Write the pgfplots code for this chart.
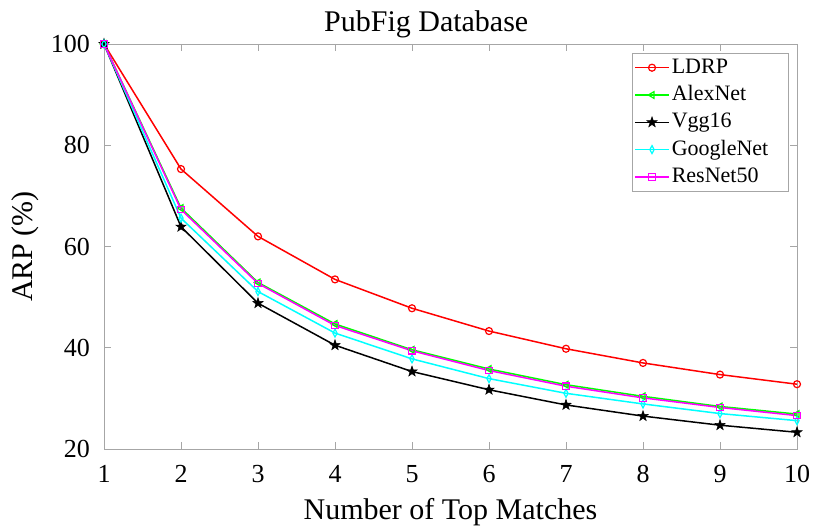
\documentclass[border=0pt]{standalone}
\usepackage{fontspec}
\setmainfont{Liberation Serif}
\usepackage{pgfplots}
\pgfplotsset{compat=1.18}

\definecolor{mred}{rgb}{1,0,0}
\definecolor{mgreen}{rgb}{0,1,0}
\definecolor{mcyan}{rgb}{0,1,1}
\definecolor{mmagenta}{rgb}{1,0,1}

% filled five-point star, as MATLAB's 'p' marker
\pgfdeclareplotmark{fstar}{%
  \pgfpathmoveto{\pgfpointpolar{90}{\pgfplotmarksize}}%
  \pgfpathlineto{\pgfpointpolar{126}{0.4\pgfplotmarksize}}%
  \pgfpathlineto{\pgfpointpolar{162}{\pgfplotmarksize}}%
  \pgfpathlineto{\pgfpointpolar{198}{0.4\pgfplotmarksize}}%
  \pgfpathlineto{\pgfpointpolar{234}{\pgfplotmarksize}}%
  \pgfpathlineto{\pgfpointpolar{270}{0.4\pgfplotmarksize}}%
  \pgfpathlineto{\pgfpointpolar{306}{\pgfplotmarksize}}%
  \pgfpathlineto{\pgfpointpolar{342}{0.4\pgfplotmarksize}}%
  \pgfpathlineto{\pgfpointpolar{18}{\pgfplotmarksize}}%
  \pgfpathlineto{\pgfpointpolar{54}{0.4\pgfplotmarksize}}%
  \pgfpathclose
  \pgfusepathqfillstroke}

\begin{document}
\begin{tikzpicture}
\begin{axis}[
    scale only axis,
    width=693pt, height=405pt,
    xmin=1, xmax=10, ymin=20, ymax=100,
    xtick={1,...,10},
    xticklabels={1,2,3,4,5,6,7,8,9,10},
    ytick={20,40,60,80,100},
    yticklabels={20,40,60,80,100},
    tick align=inside,
    major tick length=7pt,
    axis line style={gray!70, line width=0.8pt},
    every tick/.style={gray!70, line width=0.8pt},
    tick label style={font=\fontsize{26}{28}\selectfont, black, inner sep=1pt},
    xticklabel shift=15pt,
    yticklabel shift=13pt,
    xlabel={Number of Top Matches},
    ylabel={ARP (\%)},
    xlabel style={font=\fontsize{30}{32}\selectfont, inner sep=0pt, yshift=-14.5pt},
    ylabel style={font=\fontsize{30}{32}\selectfont, inner sep=11pt},
    title={PubFig Database},
    every axis title/.style={at={(0.465,1)}, anchor=base, inner sep=0pt,
        yshift=12pt, font=\fontsize{30}{32}\selectfont},
    legend style={at={(0.988,0.978)}, anchor=north east, draw=gray!70, line width=0.8pt,
        font=\fontsize{22}{24}\selectfont, row sep=3.3pt, inner xsep=2pt, inner ysep=2.4pt,
        nodes={inner sep=2pt, text height=15.5pt, text depth=4.5pt}},
    legend cell align=left,
    legend image code/.code={
        \draw[mark repeat=2,mark phase=2] plot coordinates {(0pt,0pt) (17pt,0pt) (34pt,0pt)};
    },
    every axis plot/.append style={line width=1.5pt},
]
\addplot[mred, mark=o, mark size=3.5pt, mark options={line width=1.2pt, fill=white}] coordinates {
(1,100) (2,75.3) (3,62.0) (4,53.5) (5,47.8) (6,43.3) (7,39.8) (8,37.0) (9,34.7) (10,32.8)};
\addlegendentry{LDRP}
\addplot[mgreen, mark=triangle, mark size=3.8pt, mark options={rotate=90, line width=1.2pt, fill=white}] coordinates {
(1,100) (2,67.6) (3,52.9) (4,44.7) (5,39.6) (6,35.8) (7,32.7) (8,30.4) (9,28.4) (10,26.9)};
\addlegendentry{AlexNet}
\addplot[black, mark=fstar, mark size=5.5pt, mark options={line width=0.5pt}] coordinates {
(1,100) (2,63.9) (3,48.8) (4,40.5) (5,35.3) (6,31.7) (7,28.7) (8,26.5) (9,24.7) (10,23.3)};
\addlegendentry{Vgg16}
\addplot[mcyan, mark=diamond, mark size=4pt, mark options={xscale=0.7, line width=1.2pt, fill=white}] coordinates {
(1,100) (2,65.6) (3,51.1) (4,42.9) (5,37.8) (6,33.9) (7,31.0) (8,28.9) (9,27.0) (10,25.6)};
\addlegendentry{GoogleNet\hspace*{16pt}}
\addplot[mmagenta, mark=square, mark size=3.3pt, mark options={line width=1.2pt, fill=white}] coordinates {
(1,100) (2,67.3) (3,52.7) (4,44.4) (5,39.4) (6,35.5) (7,32.4) (8,30.1) (9,28.2) (10,26.6)};
\addlegendentry{ResNet50}
\end{axis}
\path (current axis.south west) ++(-104pt,-77pt);
\path (current axis.north east) ++(17pt,44pt);
\end{tikzpicture}
\end{document}
